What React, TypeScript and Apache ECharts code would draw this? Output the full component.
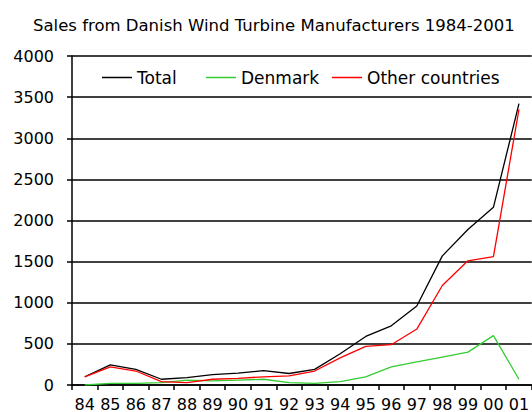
import React, { useEffect, useRef } from "react";
import * as echarts from "echarts";

const years = ["84", "85", "86", "87", "88", "89", "90", "91", "92", "93", "94", "95", "96", "97", "98", "99", "00", "01"];
const total = [100, 245, 190, 70, 90, 125, 145, 175, 140, 190, 380, 590, 720, 960, 1570, 1890, 2160, 3420];
const denmark = [0, 20, 20, 30, 60, 50, 60, 70, 30, 20, 40, 100, 220, 280, 340, 400, 600, 70];
const other = [100, 220, 170, 40, 30, 70, 80, 100, 110, 170, 330, 470, 490, 680, 1210, 1510, 1560, 3350];
const yTicks = { min: 0, max: 4000, interval: 500 };
const seriesNames = ["Total", "Denmark", "Other countries"];

const FONT = "DejaVu Sans";

export default function App() {
  const ref = useRef<HTMLDivElement>(null);
  useEffect(() => {
    if (!ref.current) return;
    const chart = echarts.init(ref.current, undefined, { renderer: "svg" });
    const mkLine = (name: string, data: number[], color: string) => ({
      name,
      type: "line",
      data,
      symbol: "none",
      showSymbol: false,
      lineStyle: { color, width: 1.3 },
      itemStyle: { color },
    });
    const legendLefts = [102, 206, 332];
    chart.setOption({
      animation: false,
      backgroundColor: "#fff",
      title: {
        text: "Sales from Danish Wind Turbine Manufacturers 1984-2001",
        left: 28,
        top: 12,
        textStyle: { fontFamily: FONT, fontSize: 16.5, fontWeight: "normal", color: "#000" },
      },
      legend: seriesNames.map((n, i) => ({
        left: legendLefts[i],
        top: 69,
        padding: 0,
        icon: "rect",
        itemWidth: 30,
        itemHeight: 1.5,
        textStyle: { fontFamily: FONT, fontSize: 17, color: "#000" },
        data: [n],
      })),
      grid: { left: 72, top: 56, bottom: 27, right: -5, containLabel: false },
      xAxis: {
        type: "category",
        data: years,
        boundaryGap: true,
        axisLine: { show: true, lineStyle: { color: "#000", width: 1.5 } },
        axisTick: { show: true, length: 5, lineStyle: { color: "#000", width: 1.5 } },
        axisLabel: { interval: 0, margin: 11, fontFamily: FONT, fontSize: 16, color: "#000" },
        splitLine: { show: false },
      },
      yAxis: {
        type: "value",
        min: yTicks.min,
        max: yTicks.max,
        interval: yTicks.interval,
        axisLine: { show: true, lineStyle: { color: "#000", width: 1.5 } },
        axisTick: { show: true, length: 5, lineStyle: { color: "#000", width: 1.5 } },
        axisLabel: {
          margin: 18,
          fontFamily: FONT,
          fontSize: 16,
          color: "#000",
          formatter: (v: number) => String(v),
        },
        splitLine: { show: true, lineStyle: { color: "#000", width: 1.5 } },
      },
      series: [
        mkLine(seriesNames[0], total, "#000000"),
        mkLine(seriesNames[1], denmark, "#33cc33"),
        mkLine(seriesNames[2], other, "#ff0000"),
      ],
    });
    return () => chart.dispose();
  }, []);
  return <div ref={ref} style={{ width: 532, height: 412, position: "absolute", left: 0, top: 0 }} />;
}
